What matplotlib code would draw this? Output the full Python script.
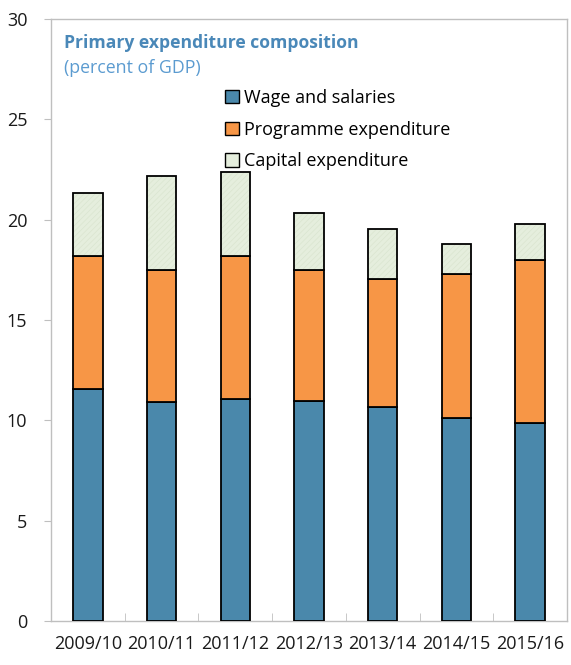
import matplotlib
matplotlib.use("Agg")
import matplotlib.pyplot as plt
from matplotlib.patches import Patch
import numpy as np

years = ["2009/10", "2010/11", "2011/12", "2012/13", "2013/14", "2014/15", "2015/16"]
wages = [11.55, 10.90, 11.05, 10.98, 10.68, 10.12, 9.85]
programme = [6.64, 6.57, 7.14, 6.53, 6.35, 7.19, 8.12]
capital = [3.16, 4.73, 4.19, 2.82, 2.52, 1.48, 1.83]

plt.rcParams['font.family'] = ['Open Sans', 'DejaVu Sans']
plt.rcParams['hatch.linewidth'] = 0.5

fig = plt.figure(figsize=(5.71, 6.65), dpi=100)
ax = fig.add_axes([51/571, 44/665, 516/571, 602/665])

x = np.arange(len(years))
w = 0.4
wages = np.array(wages)
programme = np.array(programme)
capital = np.array(capital)

c_wage, c_prog, c_cap = '#4a88ab', '#f79646', '#e5eedd'

ax.bar(x, wages, w, color=c_wage, edgecolor='black', linewidth=1.3, zorder=3)
ax.bar(x, programme, w, bottom=wages, color=c_prog, edgecolor='black',
       linewidth=1.3, zorder=3)
# faint hatch inside capital bars, outline drawn separately on top
ax.bar(x, capital, w, bottom=wages + programme, color=c_cap,
       edgecolor='#dae5d0', linewidth=0, hatch='//////', zorder=3)
ax.bar(x, capital, w, bottom=wages + programme, fill=False,
       edgecolor='black', linewidth=1.3, zorder=4)

ax.set_xlim(-0.5, len(years) - 0.5)
ax.set_ylim(0, 30)
ax.set_yticks(range(0, 31, 5))
ax.set_xticks(x)
ax.set_xticklabels(years)
ax.set_xticks(np.arange(0.5, len(years) - 1, 1), minor=True)

for s in ax.spines.values():
    s.set_color('#bfbfbf')
    s.set_linewidth(1.0)

ax.tick_params(axis='y', direction='out', length=5, color='#bfbfbf',
               labelsize=13, pad=12, labelcolor='#1a1a1a')
ax.tick_params(axis='x', which='major', length=0, labelsize=13, pad=10,
               labelcolor='#1a1a1a')
ax.tick_params(axis='x', which='minor', direction='in', length=6,
               color='#bfbfbf')

ax.text(13/516, 0.960, 'Primary expenditure composition', transform=ax.transAxes,
        fontsize=12.6, fontweight='bold', color='#4a88b8', va='center')
ax.text(13/516, 0.9186, '(percent of GDP)', transform=ax.transAxes,
        fontsize=12.8, color='#5b9bd0', va='center')

handles = [Patch(facecolor=c_wage, edgecolor='black', linewidth=1.0),
           Patch(facecolor=c_prog, edgecolor='black', linewidth=1.0),
           Patch(facecolor=c_cap, edgecolor='black', linewidth=1.0)]
labels = ['Wage and salaries', 'Programme expenditure', 'Capital expenditure']
ax.legend(handles, labels, loc='upper left', bbox_to_anchor=(167/516, 0.896),
          frameon=False, fontsize=13, handlelength=0.75, handleheight=0.75,
          handletextpad=0.3, labelspacing=0.76, borderaxespad=0)

fig.savefig('out.png', dpi=100)
